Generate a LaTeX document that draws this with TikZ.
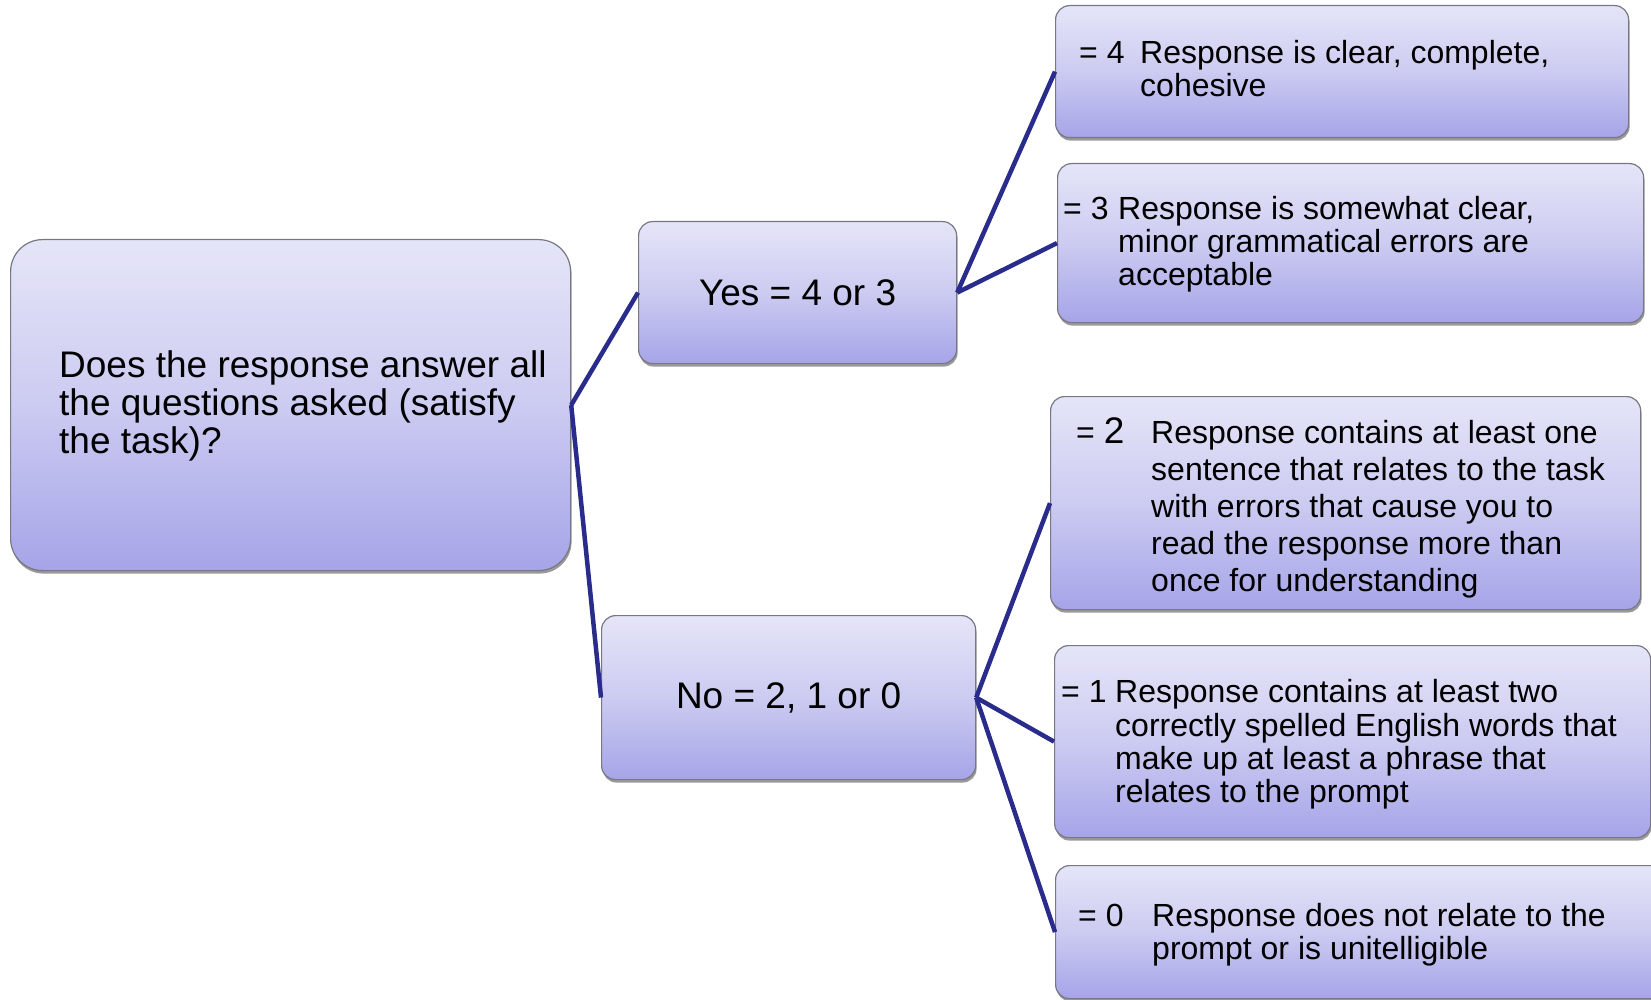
\documentclass[tikz,border=0pt]{standalone}
\usepackage{fontspec}
\setmainfont{Liberation Sans}
\usetikzlibrary{shadows}
\definecolor{boxtop}{RGB}{229,229,248}
\definecolor{boxmid}{RGB}{204,203,241}
\definecolor{boxbot}{RGB}{166,164,232}
\definecolor{boxline}{RGB}{120,120,132}
\definecolor{conn}{RGB}{42,44,140}
\newcommand{\lblbox}[2]{\makebox[#1][l]{#2}}
\tikzset{
  box/.style={draw=boxline, line width=1.2, rounded corners=14, top color=boxtop,
    bottom color=boxbot, middle color=boxmid, inner sep=0, anchor=north west,
    drop shadow={shadow xshift=1pt, shadow yshift=-3pt, fill=black, opacity=0.4}},
  bigtxt/.style={inner sep=0, font=\fontsize{37}{38.3}\selectfont, align=left},
  smalltxt/.style={inner sep=0, anchor=west, font=\fontsize{32}{33.1}\selectfont},
  conline/.style={draw=conn, line width=4.5}
}
\begin{document}
\begin{tikzpicture}[x=1pt,y=-1pt]
\useasboundingbox (0,0) rectangle (1651,1000);
% boxes
\node[box, rounded corners=32, minimum width=560, minimum height=331] (main) at (10,239) {};
\node[box, minimum width=318, minimum height=142] (yes) at (638,221) {};
\node[box, minimum width=374, minimum height=164] (no) at (601,615) {};
\node[box, minimum width=573, minimum height=132] (b4) at (1055,5) {};
\node[box, minimum width=586, minimum height=159] (b3) at (1057,163) {};
\node[box, minimum width=590, minimum height=213] (b2) at (1050,396) {};
\node[box, minimum width=596, minimum height=192] (b1) at (1054,645) {};
\node[box, minimum width=610, minimum height=133] (b0) at (1055,865) {};
% texts
\node[bigtxt, anchor=west] (tmain) at (59,406) {Does the response answer all\\the questions asked (satisfy\\the task)?};
\node[bigtxt] (tyes) at (yes.center) {Yes = 4 or 3};
\node[bigtxt] (tno) at (no.center) {No = 2, 1 or 0};
\node[smalltxt] (t4) at (1079,73) {\begin{tabular}{@{}l@{}l@{}}\lblbox{61pt}{= 4} & Response is clear, complete,\\ & cohesive\end{tabular}};
\node[smalltxt] (t3) at (1063,246) {\begin{tabular}{@{}l@{}l@{}}\lblbox{55pt}{= 3} & Response is somewhat clear,\\ & minor grammatical errors are\\ & acceptable\end{tabular}};
\node[smalltxt, font=\fontsize{32}{37.1}\selectfont] (t2) at (1076,510) {\begin{tabular}{@{}l@{}l@{}}\lblbox{75pt}{= {\fontsize{37}{37}\selectfont 2}} & Response contains at least one\\ & sentence that relates to the task\\ & with errors that cause you to\\ & read the response more than\\ & once for understanding\end{tabular}};
\node[smalltxt] (t1) at (1061,746) {\begin{tabular}{@{}l@{}l@{}}\lblbox{54pt}{= 1} & Response contains at least two\\ & correctly spelled English words that\\ & make up at least a phrase that\\ & relates to the prompt\end{tabular}};
\node[smalltxt] (t0) at (1078,936) {\begin{tabular}{@{}l@{}l@{}}\lblbox{74pt}{= 0} & Response does not relate to the\\ & prompt or is unitelligible\end{tabular}};
% connectors
\draw[conline] (main.east) -- (yes.west);
\draw[conline] (main.east) -- (no.west);
\draw[conline] (yes.east) -- (b4.west);
\draw[conline] (yes.east) -- (b3.west);
\draw[conline] (no.east) -- (b2.west);
\draw[conline] (no.east) -- (b1.west);
\draw[conline] (no.east) -- (b0.west);
\end{tikzpicture}
\end{document}
